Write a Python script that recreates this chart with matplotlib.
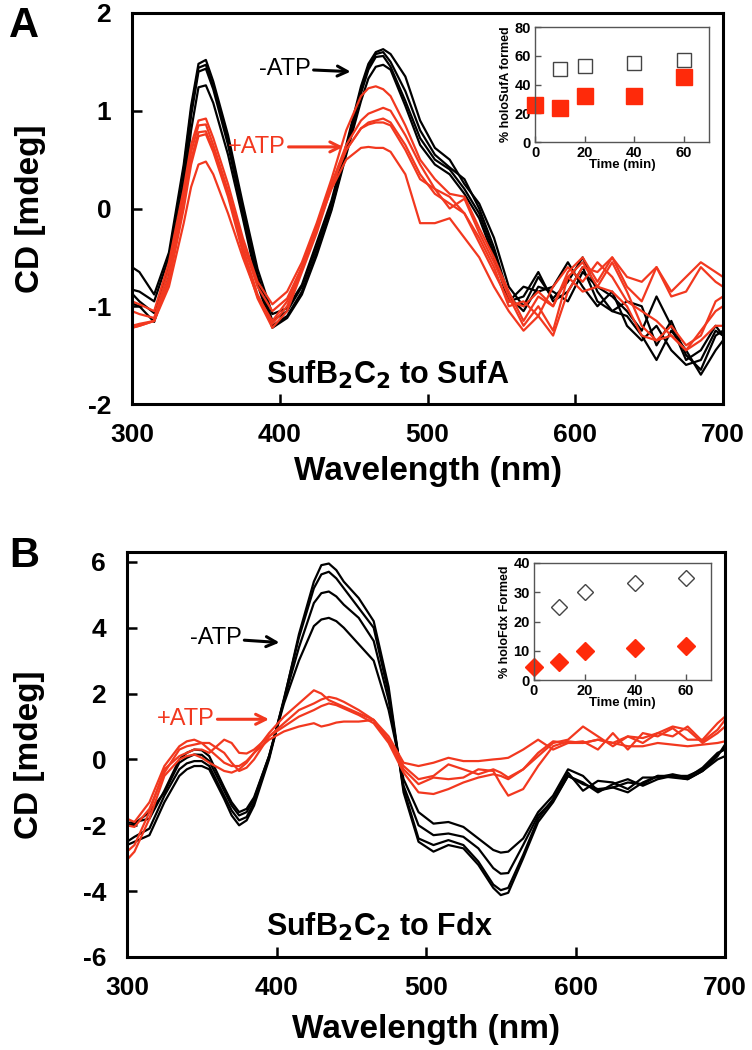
import matplotlib
matplotlib.use('Agg')
import matplotlib.pyplot as plt

plt.rcParams['font.family'] = ['Liberation Sans', 'DejaVu Sans']
plt.rcParams['mathtext.default'] = 'bf'

# ---------------- data ----------------
wavelength_a = [300, 305, 315, 325, 335, 340, 345, 350, 355, 365, 375, 385, 395, 405, 415, 425,
                435, 445, 455, 460, 465, 470, 475, 485, 495, 505, 515, 525, 535, 545, 555, 565,
                575, 585, 595, 605, 615, 625, 635, 645, 655, 665, 675, 685, 695, 700]

# Panel A: SufB2C2 to SufA, -ATP (black)
a_noatp_1 = [-0.60, -0.65, -0.88, -0.45, 0.45, 1.05, 1.48, 1.52, 1.30, 0.75, 0.05, -0.62, -1.08, -1.02, -0.78, -0.35,
             0.08, 0.65, 1.25, 1.48, 1.60, 1.63, 1.58, 1.35, 0.90, 0.62, 0.50, 0.25, 0.05, -0.30, -0.80, -1.00,
             -0.70, -0.92, -0.75, -0.50, -0.85, -1.05, -0.95, -1.00, -1.40, -1.15, -1.50, -1.65, -1.30, -1.25]
a_noatp_2 = [-0.83, -0.85, -0.95, -0.50, 0.40, 1.00, 1.44, 1.47, 1.25, 0.70, 0.00, -0.68, -1.15, -1.05, -0.80, -0.40,
             0.05, 0.62, 1.22, 1.45, 1.58, 1.60, 1.50, 1.20, 0.80, 0.55, 0.42, 0.30, 0.00, -0.40, -0.90, -1.05,
             -0.80, -0.85, -0.95, -0.65, -0.80, -0.90, -1.05, -1.25, -0.90, -1.20, -1.55, -1.45, -1.20, -1.30]
a_noatp_3 = [-0.87, -0.95, -1.07, -0.60, 0.30, 0.95, 1.40, 1.43, 1.22, 0.65, -0.05, -0.72, -1.20, -1.10, -0.85, -0.45,
             0.00, 0.58, 1.18, 1.42, 1.55, 1.56, 1.45, 1.10, 0.72, 0.50, 0.40, 0.20, -0.05, -0.45, -0.95, -0.90,
             -0.65, -0.95, -0.85, -0.60, -0.95, -1.05, -1.10, -1.30, -1.55, -1.25, -1.45, -1.70, -1.45, -1.35]
a_noatp_4 = [-0.97, -1.00, -1.16, -0.70, 0.20, 0.80, 1.24, 1.26, 1.08, 0.55, -0.10, -0.78, -1.22, -1.12, -0.88, -0.48,
             -0.02, 0.55, 1.10, 1.33, 1.45, 1.47, 1.42, 1.05, 0.65, 0.45, 0.35, 0.15, -0.10, -0.50, -0.95, -0.80,
             -0.85, -0.80, -0.55, -0.80, -1.00, -0.85, -1.20, -1.35, -1.20, -1.45, -1.60, -1.55, -1.25, -1.30]

# Panel A, +ATP (red)
a_atp_1 = [-0.95, -0.98, -1.05, -0.55, 0.20, 0.65, 0.90, 0.92, 0.72, 0.25, -0.30, -0.75, -0.98, -0.85, -0.55, -0.15,
           0.30, 0.80, 1.15, 1.23, 1.25, 1.22, 1.15, 0.85, 0.50, 0.30, 0.15, 0.12, -0.20, -0.50, -0.85, -1.15,
           -0.90, -1.00, -0.65, -0.50, -0.75, -0.50, -0.80, -0.95, -0.60, -0.90, -0.85, -0.60, -0.75, -0.80]
a_atp_2 = [-1.05, -1.08, -1.12, -0.62, 0.12, 0.58, 0.85, 0.86, 0.65, 0.18, -0.35, -0.80, -1.05, -0.92, -0.60, -0.20,
           0.25, 0.65, 0.90, 0.97, 1.00, 1.03, 1.00, 0.75, 0.45, 0.20, 0.00, 0.10, -0.25, -0.55, -0.90, -1.20,
           -1.00, -1.25, -0.70, -0.55, -0.80, -0.85, -1.00, -1.30, -1.35, -1.20, -1.40, -1.30, -0.95, -0.90]
a_atp_3 = [-1.20, -1.18, -1.15, -0.70, 0.05, 0.50, 0.78, 0.79, 0.60, 0.15, -0.40, -0.88, -1.18, -1.00, -0.62, -0.20,
           0.25, 0.60, 0.82, 0.88, 0.90, 0.92, 0.88, 0.65, 0.35, 0.15, 0.05, -0.05, -0.30, -0.60, -1.00, -0.95,
           -1.10, -0.80, -0.60, -0.75, -0.55, -0.70, -0.95, -1.05, -1.15, -1.30, -1.45, -1.25, -1.05, -1.00]
a_atp_4 = [-1.22, -1.20, -1.15, -0.75, 0.00, 0.45, 0.74, 0.76, 0.58, 0.12, -0.45, -0.92, -1.22, -1.05, -0.65, -0.25,
           0.22, 0.60, 0.82, 0.86, 0.88, 0.88, 0.85, 0.60, 0.30, 0.20, 0.12, -0.05, -0.35, -0.65, -0.95, -1.00,
           -0.85, -1.00, -0.70, -0.85, -0.80, -0.55, -0.85, -1.20, -1.35, -1.30, -1.45, -1.35, -1.20, -1.20]
a_atp_5 = [-1.22, -1.20, -1.15, -0.80, -0.15, 0.22, 0.45, 0.48, 0.35, -0.05, -0.50, -0.90, -1.15, -0.95, -0.60, -0.20,
           0.20, 0.50, 0.62, 0.63, 0.62, 0.62, 0.58, 0.35, -0.15, -0.15, -0.10, -0.30, -0.50, -0.80, -1.05, -1.25,
           -1.10, -1.30, -0.85, -0.60, -0.65, -0.50, -0.70, -0.75, -0.60, -0.85, -0.70, -0.55, -0.65, -0.70]

wavelength_b = [300, 305, 315, 325, 335, 340, 345, 350, 355, 365, 370, 375, 380, 385, 395, 405, 415,
                425, 430, 435, 440, 445, 455, 465, 475, 485, 495, 505, 515, 525, 535, 545, 550, 555,
                565, 575, 585, 595, 605, 615, 625, 635, 645, 655, 665, 675, 685, 695, 700]

# Panel B: SufB2C2 to Fdx, -ATP (black)
b_noatp_1 = [-2.60, -2.50, -2.30, -1.30, -0.50, -0.30, -0.20, -0.20, -0.30, -1.20, -1.70, -2.00, -1.85, -1.40, 0.00, 1.80, 3.80,
             5.40, 5.90, 5.95, 5.75, 5.40, 4.90, 4.20, 2.20, -1.00, -2.50, -2.80, -2.60, -2.70, -3.20, -3.90, -4.12, -4.05,
             -3.00, -1.90, -1.30, -0.50, -0.75, -0.90, -0.85, -1.00, -0.70, -0.50, -0.55, -0.60, -0.35, 0.00, 0.10]
b_noatp_2 = [-2.50, -2.35, -2.10, -1.10, -0.30, -0.12, -0.05, -0.05, -0.20, -1.10, -1.55, -1.85, -1.75, -1.30, 0.05, 1.85, 3.70,
             5.20, 5.62, 5.70, 5.50, 5.20, 4.60, 4.00, 2.00, -0.90, -2.40, -2.60, -2.45, -2.60, -3.10, -3.80, -3.97, -3.90,
             -2.90, -1.80, -1.20, -0.40, -0.95, -0.65, -0.70, -0.90, -0.55, -0.55, -0.45, -0.55, -0.25, 0.20, 0.30]
b_noatp_3 = [-2.00, -1.95, -1.60, -1.00, -0.10, 0.05, 0.15, 0.14, -0.05, -0.95, -1.40, -1.70, -1.60, -1.20, 0.10, 1.80, 3.40,
             4.75, 5.05, 5.10, 4.95, 4.70, 4.30, 3.60, 1.80, -0.80, -2.00, -2.30, -2.25, -2.35, -2.70, -3.30, -3.47, -3.45,
             -2.60, -1.70, -1.25, -0.50, -0.70, -1.00, -0.75, -0.60, -0.80, -0.60, -0.50, -0.50, -0.30, 0.15, 0.35]
b_noatp_4 = [-1.93, -1.90, -1.80, -0.95, 0.00, 0.20, 0.30, 0.28, 0.10, -0.85, -1.30, -1.60, -1.50, -1.15, 0.10, 1.70, 3.00,
             4.05, 4.25, 4.30, 4.20, 4.00, 3.50, 3.00, 1.50, -0.60, -1.60, -1.95, -1.90, -2.05, -2.40, -2.75, -2.83, -2.80,
             -2.40, -1.60, -1.10, -0.30, -0.50, -0.95, -0.85, -0.70, -0.75, -0.50, -0.50, -0.60, -0.35, 0.10, 0.45]

# Panel B, +ATP (red)
b_atp_1 = [-1.80, -1.90, -1.30, -0.20, 0.40, 0.55, 0.60, 0.50, 0.30, -0.10, -0.20, -0.20, -0.05, 0.20, 0.80, 1.30, 1.70,
           2.10, 2.00, 1.80, 1.70, 1.60, 1.40, 1.20, 0.60, -0.20, -0.60, -0.50, -0.15, -0.30, -0.45, -0.30, -0.40, -0.55,
           -0.30, 0.20, 0.55, 0.50, 0.55, 0.30, 0.80, 0.30, 0.80, 0.70, 0.95, 0.60, 0.60, 1.10, 1.30]
b_atp_2 = [-2.00, -2.05, -1.50, -0.40, 0.30, 0.40, 0.45, 0.50, 0.50, 0.20, -0.10, -0.35, -0.25, 0.00, 0.70, 1.10, 1.50,
           1.70, 1.82, 1.90, 1.85, 1.75, 1.50, 1.20, 0.55, -0.30, -0.75, -0.55, -0.60, -0.55, -0.30, -0.35, -0.75, -1.10,
           -0.90, -0.20, 0.40, 0.55, 0.50, 0.60, 0.50, 0.70, 0.50, 0.80, 1.00, 0.90, 0.50, 0.80, 1.00]
b_atp_3 = [-2.80, -2.60, -1.60, -0.30, 0.10, 0.20, 0.30, 0.30, 0.20, 0.60, 0.50, 0.20, 0.18, 0.30, 0.70, 1.00, 1.30,
           1.50, 1.62, 1.70, 1.65, 1.55, 1.35, 1.10, 0.50, -0.40, -1.00, -1.05, -0.90, -0.70, -0.55, -0.45, -0.50, -0.60,
           -0.30, 0.10, 0.50, 0.60, 1.00, 0.70, 0.40, 0.70, 0.65, 0.80, 0.70, 1.00, 0.55, 0.90, 1.20]
b_atp_4 = [-3.05, -2.80, -1.80, -0.50, 0.00, 0.10, 0.15, 0.05, -0.10, -0.35, -0.40, -0.30, -0.10, 0.20, 0.60, 0.85, 1.00,
           1.10, 1.00, 1.05, 1.12, 1.15, 1.15, 1.20, 0.70, -0.10, -0.20, -0.10, 0.05, -0.05, -0.05, 0.00, 0.02, 0.05,
           0.30, 0.60, 0.30, 0.50, 0.50, 0.60, 0.50, 0.40, 0.40, 0.50, 0.45, 0.40, 0.45, 0.50, 0.55]

# Insets
time_min = [0, 10, 20, 40, 60]
sufa_noatp_time = [10, 20, 40, 60]
sufa_noatp = [51, 53, 55, 57]
sufa_atp = [26, 24, 32, 32, 45]
fdx_noatp_time = [10, 20, 40, 60]
fdx_noatp = [25, 30, 33, 35]
fdx_atp = [4.5, 6, 10, 11, 11.5]

x_ticks = [300, 400, 500, 600, 700]
a_yticks = [-2, -1, 0, 1, 2]
b_yticks = [-6, -4, -2, 0, 2, 4, 6]

RED = '#f2381f'
RED_MARK = '#ff2a0a'

# ---------------- figure ----------------
W, H = 752, 1050
fig = plt.figure(figsize=(W / 100, H / 100), dpi=100)


def px_axes(x0, y0, x1, y1):
    return fig.add_axes([x0 / W, 1 - y1 / H, (x1 - x0) / W, (y1 - y0) / H])


def style_main(ax, yticks):
    for s in ax.spines.values():
        s.set_linewidth(2.2)
    ax.set_xlim(300, 700)
    ax.set_xticks(x_ticks)
    ax.set_yticks(yticks)
    ax.set_xticklabels([str(t) for t in x_ticks], fontsize=19, fontweight='bold')
    ax.set_yticklabels([str(t) for t in yticks], fontsize=19, fontweight='bold')
    ax.tick_params(direction='in', length=7, width=1.8, top=False, right=False)
    ax.tick_params(axis='x', pad=14)
    ax.tick_params(axis='y', pad=15)
    ax.set_xlabel('Wavelength (nm)', fontsize=24, fontweight='bold')
    ax.set_ylabel('CD [mdeg]', fontsize=24, fontweight='bold')


def style_inset(ax, ylim, yticks, ylabel):
    for s in ax.spines.values():
        s.set_linewidth(1.0)
        s.set_color('#555555')
    ax.set_xlim(0, 70)
    ax.set_ylim(*ylim)
    ax.set_xticks([0, 20, 40, 60])
    ax.set_yticks(yticks)
    ax.tick_params(direction='in', length=4, width=1, labelsize=10.5, pad=3,
                   top=False, right=False, colors='#555555', labelcolor='black')
    for lab in ax.get_xticklabels() + ax.get_yticklabels():
        lab.set_fontweight('bold')
    ax.set_xlabel('Time (min)', fontsize=9.5, fontweight='bold', labelpad=-1)
    ax.set_ylabel(ylabel, fontsize=9, fontweight='bold', labelpad=2)


# ---- Panel A ----
axA = px_axes(132, 13, 723, 404)
for c in [a_noatp_1, a_noatp_2, a_noatp_3, a_noatp_4]:
    axA.plot(wavelength_a, c, color='black', lw=1.6, solid_joinstyle='round')
for c in [a_atp_1, a_atp_2, a_atp_3, a_atp_4, a_atp_5]:
    axA.plot(wavelength_a, c, color=RED, lw=1.6, solid_joinstyle='round')
axA.set_ylim(-2, 2)
style_main(axA, a_yticks)
axA.xaxis.set_label_coords(0.5, -0.132)
axA.yaxis.set_label_coords(-0.145, 0.5)

axA.annotate('-ATP', xy=(448, 1.40), xytext=(386, 1.43), fontsize=17, color='black',
             va='center', ha='left',
             arrowprops=dict(arrowstyle='->', color='black', lw=2.2, mutation_scale=18,
                             shrinkA=0, shrinkB=0))
axA.annotate('+ATP', xy=(443, 0.63), xytext=(365, 0.63), fontsize=17, color=RED,
             va='center', ha='left',
             arrowprops=dict(arrowstyle='->', color=RED, lw=2.2, mutation_scale=18,
                             shrinkA=0, shrinkB=0))
axA.text(473, -1.70, r'SufB$_\mathbf{2}$C$_\mathbf{2}$ to SufA', fontsize=22, fontweight='bold',
         ha='center', va='center')

insA = px_axes(535, 27, 709, 142)
insA.plot(sufa_noatp_time, sufa_noatp, 's', ms=9.5, mfc='white', mec='#444444', mew=1.0,
          clip_on=False)
insA.plot(time_min, sufa_atp, 's', ms=11, color=RED_MARK, mec=RED_MARK, clip_on=False)
style_inset(insA, (0, 80), [0, 20, 40, 60, 80], '% holoSufA formed')

# ---- Panel B ----
axB = px_axes(127, 552, 725, 957)
for c in [b_noatp_1, b_noatp_2, b_noatp_3, b_noatp_4]:
    axB.plot(wavelength_b, c, color='black', lw=1.6, solid_joinstyle='round')
for c in [b_atp_1, b_atp_2, b_atp_3, b_atp_4]:
    axB.plot(wavelength_b, c, color=RED, lw=1.6, solid_joinstyle='round')
axB.set_ylim(-6, 6.3)
style_main(axB, b_yticks)
axB.xaxis.set_label_coords(0.5, -0.14)
axB.yaxis.set_label_coords(-0.137, 0.5)

axB.annotate('-ATP', xy=(402, 3.55), xytext=(342, 3.68), fontsize=17, color='black',
             va='center', ha='left',
             arrowprops=dict(arrowstyle='->', color='black', lw=2.2, mutation_scale=18,
                             shrinkA=0, shrinkB=0))
axB.annotate('+ATP', xy=(395, 1.22), xytext=(320, 1.22), fontsize=17, color=RED,
             va='center', ha='left',
             arrowprops=dict(arrowstyle='->', color=RED, lw=2.2, mutation_scale=18,
                             shrinkA=0, shrinkB=0))
axB.text(469, -5.1, r'SufB$_\mathbf{2}$C$_\mathbf{2}$ to Fdx', fontsize=22, fontweight='bold',
         ha='center', va='center')

insB = px_axes(534, 563, 711, 680)
insB.plot(fdx_noatp_time, fdx_noatp, 'D', ms=8.5, mfc='white', mec='#444444', mew=1.0,
          clip_on=False)
insB.plot(time_min, fdx_atp, 'D', ms=9, color=RED_MARK, mec=RED_MARK, clip_on=False)
style_inset(insB, (0, 40), [0, 10, 20, 30, 40], '% holoFdx Formed')

# panel letters
fig.text(24 / W, 1 - 26 / H, 'A', fontsize=30, fontweight='bold', ha='center', va='center')
fig.text(24 / W, 1 - 556 / H, 'B', fontsize=30, fontweight='bold', ha='center', va='center')

fig.savefig('out.png', dpi=100)
